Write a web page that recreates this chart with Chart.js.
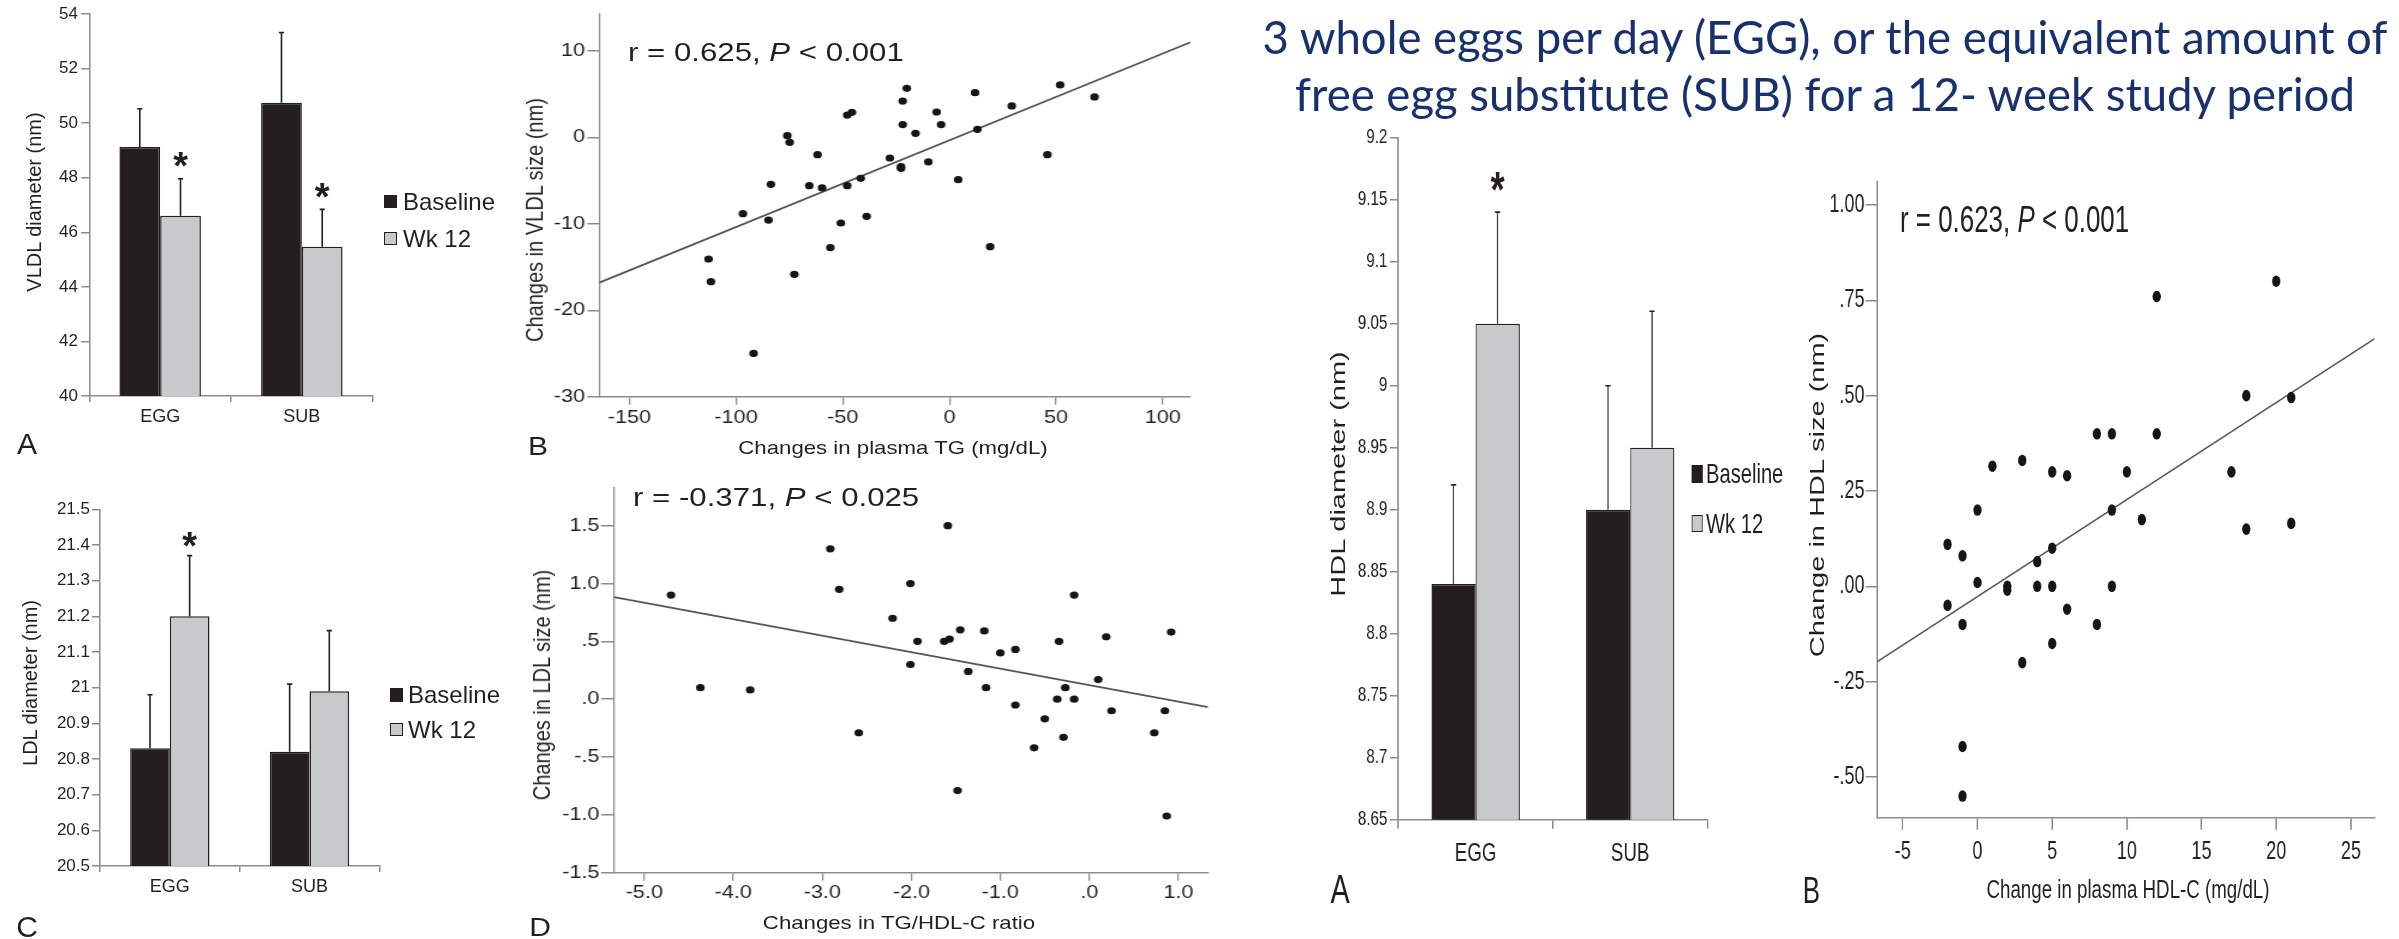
<!DOCTYPE html>
<html>
<head>
<meta charset="utf-8">
<title>Egg vs egg substitute – lipoprotein particle size</title>
<script src="https://cdn.jsdelivr.net/npm/chart.js@4.4.1/dist/chart.umd.min.js"></script>
<style>
  html, body { margin:0; padding:0; background:#fff; }
  body { position:relative; width:2399px; height:939px; overflow:hidden; }
  .panel { position:absolute; transform-origin:0 0; }
  .panel canvas { position:absolute; left:0; top:0; }
  .t { position:absolute; white-space:nowrap; color:#231f20; font-family:'Liberation Sans', Arial, Helvetica, sans-serif; }
  .sq { position:absolute; box-sizing:border-box; border:1.5px solid #231f20; }
  .head { position:absolute; left:1125px; width:1400px; text-align:center; white-space:nowrap; color:#17306f; font-family:Lato, 'Open Sans', sans-serif; }
</style>
</head>
<body>
<script>
// ---------------- data ----------------
const titleLines = ['3 whole eggs per day (EGG), or the equivalent amount of',
                    'free egg substitute (SUB) for a 12- week study period'];
const barCategories = ['EGG', 'SUB'];
const seriesNames = ['Baseline', 'Wk 12'];

// A: VLDL diameter
const vldlBaseline   = [49.13, 50.75];
const vldlBaselineSE = [1.40, 2.57];
const vldlWk12       = [46.61, 45.47];
const vldlWk12SE     = [1.35, 1.37];
const vldlWk12Star   = [true, true];
const vldlTicks      = [40, 42, 44, 46, 48, 50, 52, 54];
const vldlTickLabels = ['40', '42', '44', '46', '48', '50', '52', '54'];

// C: LDL diameter
const ldlBaseline   = [20.83, 20.82];
const ldlBaselineSE = [0.15, 0.19];
const ldlWk12       = [21.20, 20.99];
const ldlWk12SE     = [0.17, 0.17];
const ldlWk12Star   = [true, false];
const ldlTicks      = [20.5, 20.6, 20.7, 20.8, 20.9, 21.0, 21.1, 21.2, 21.3, 21.4, 21.5];
const ldlTickLabels = ['20.5', '20.6', '20.7', '20.8', '20.9', '21', '21.1', '21.2', '21.3', '21.4', '21.5'];

// HDL diameter
const hdlBaseline   = [8.84, 8.90];
const hdlBaselineSE = [0.08, 0.10];
const hdlWk12       = [9.05, 8.95];
const hdlWk12SE     = [0.09, 0.11];
const hdlWk12Star   = [true, false];
const hdlTicks      = [8.65, 8.7, 8.75, 8.8, 8.85, 8.9, 8.95, 9.0, 9.05, 9.1, 9.15, 9.2];
const hdlTickLabels = ['8.65', '8.7', '8.75', '8.8', '8.85', '8.9', '8.95', '9', '9.05', '9.1', '9.15', '9.2'];

// B: change in plasma TG vs change in VLDL size
const tgChange   = [-112.9, -111.8, -96.8, -91.8, -84.8, -83.7, -76.0, -74.9, -72.7, -65.7, -61.8, -59.7, -55.8,
                    -50.9, -47.9, -47.9, -45.7, -41.6, -38.8, -27.9, -22.7, -22.7, -21.9, -21.9, -20.0, -15.9,
                    -9.9, -6.0, -3.9, 4.1, 12.0, 13.1, 19.1, 29.2, 45.9, 51.9, 68.0];
const vldlChange = [-14.07, -16.69, -8.82, -24.99, -9.56, -5.43, 0.20, -0.57, -15.84, -5.58, -2.0, -5.85, -12.76,
                    -9.90, -5.58, 2.59, 2.90, -4.73, -9.13, -2.38, -3.38, -3.58, 4.21, 1.48, 5.68, 0.47,
                    -2.84, 2.94, 1.48, -4.89, 5.18, 0.94, -12.64, 3.64, -2.0, 6.07, 4.68];
const vldlFitX = [-164.1, 113.0];
const vldlFitY = [-16.8, 11.0];
const tgTicks = [-150, -100, -50, 0, 50, 100];
const tgTickLabels = ['-150', '-100', '-50', '0', '50', '100'];
const vldlChangeTicks = [-30, -20, -10, 0, 10];
const vldlChangeTickLabels = ['-30', '-20', '-10', '0', '10'];

// D: change in TG/HDL-C ratio vs change in LDL size
const ratioChange = [-4.70, -4.37, -3.81, -2.91, -2.81, -2.59, -2.21, -2.01, -2.01, -1.93, -1.63, -1.57, -1.59,
                     -1.45, -1.48, -1.36, -1.18, -1.16, -1.00, -0.83, -0.83, -0.62, -0.50, -0.36, -0.34, -0.29,
                     -0.27, -0.17, -0.17, 0.10, 0.19, 0.25, 0.73, 0.85, 0.87, 0.92];
const ldlChange   = [0.90, 0.10, 0.08, 1.30, 0.95, -0.29, 0.70, 1.00, 0.30, 0.50, 0.50, 0.52, 1.50,
                     0.60, -0.79, 0.24, 0.59, 0.10, 0.40, 0.43, -0.05, -0.42, -0.17, 0.00, 0.50, -0.33,
                     0.10, 0.90, 0.00, 0.17, 0.54, -0.10, -0.29, -0.10, -1.01, 0.58];
const ldlFitX = [-5.34, 1.334];
const ldlFitY = [0.883, -0.069];
const ratioTicks = [-5, -4, -3, -2, -1, 0, 1];
const ratioTickLabels = ['-5.0', '-4.0', '-3.0', '-2.0', '-1.0', '.0', '1.0'];
const ldlChangeTicks = [-1.5, -1, -0.5, 0, 0.5, 1, 1.5];
const ldlChangeTickLabels = ['-1.5', '-1.0', '-.5', '.0', '.5', '1.0', '1.5'];

// HDL B: change in plasma HDL-C vs change in HDL size
const hdlcChange    = [-2, -2, -1, -1, -1, -1, 0, 0, 1, 2, 2, 3, 3, 4, 4, 5, 5, 5, 5, 6, 6, 8, 8, 9, 9, 9,
                       10, 11, 12, 12, 17, 18, 18, 20, 21, 21];
const hdlSizeChange = [0.11, -0.05, 0.08, -0.10, -0.42, -0.55, 0.20, 0.01, 0.315, 0.0, -0.01, 0.33, -0.20,
                       0.065, 0.0, 0.30, 0.10, 0.0, -0.15, 0.29, -0.06, 0.40, -0.10, 0.40, 0.20, 0.0,
                       0.30, 0.175, 0.40, 0.76, 0.30, 0.50, 0.15, 0.80, 0.495, 0.165];
const hdlFitX = [-6.69, 26.58];
const hdlFitY = [-0.197, 0.649];
const hdlcTicks = [-5, 0, 5, 10, 15, 20, 25];
const hdlcTickLabels = ['-5', '0', '5', '10', '15', '20', '25'];
const hdlSizeTicks = [-0.5, -0.25, 0, 0.25, 0.5, 0.75, 1.0];
const hdlSizeTickLabels = ['-.50', '-.25', '.00', '.25', '.50', '.75', '1.00'];

// ---------------- style ----------------
const FONT = "'Liberation Sans', Arial, Helvetica, sans-serif";
const INK = '#231f20';
const LIGHT = '#c8c9cb';
const AXIS = '#8c8c8c';
const LINE = '#555555';
const DOT = '#151515';

// ---------------- helpers ----------------
function panel(p) {
  const div = document.createElement('div');
  div.className = 'panel';
  const lw = Math.ceil(p.width / p.k);
  div.style.left = p.left + 'px';
  div.style.top = p.top + 'px';
  div.style.width = lw + 'px';
  div.style.height = p.height + 'px';
  div.style.transform = 'scaleX(' + p.k + ')';
  document.body.appendChild(div);
  const cv = document.createElement('canvas');
  cv.width = lw; cv.height = p.height;
  cv.style.width = lw + 'px'; cv.style.height = p.height + 'px';
  div.appendChild(cv);
  p.div = div; p.cv = cv; p.lw = lw;
  p.lx = x => (x - p.left) / p.k;
  p.ly = y => y - p.top;
  return p;
}

function label(p, html, x, y, size, o = {}) {
  const el = document.createElement('div');
  el.className = 't';
  el.innerHTML = html;
  el.style.fontSize = size + 'px';
  el.style.lineHeight = size + 'px';
  if (o.weight) el.style.fontWeight = o.weight;
  el.style.left = p.lx(x) + 'px';
  el.style.top = p.ly(y) + 'px';
  let tr = o.align === 'left' ? 'translate(0,-50%)' : 'translate(-50%,-50%)';
  if (o.rot) tr += ' rotate(-90deg)';
  el.style.transform = tr;
  p.div.appendChild(el);
}

function square(p, x0, y0, x1, y1, fill) {
  const el = document.createElement('div');
  el.className = 'sq';
  el.style.left = p.lx(x0) + 'px';
  el.style.top = p.ly(y0) + 'px';
  el.style.width = (x1 - x0) / p.k + 'px';
  el.style.height = (y1 - y0) + 'px';
  el.style.background = fill;
  p.div.appendChild(el);
}

const errorBarPlugin = {
  id: 'errorBars',
  afterDatasetsDraw(chart, args, opts) {
    const ctx = chart.ctx, ys = chart.scales.y;
    chart.data.datasets.forEach((ds, di) => {
      if (!ds.se) return;
      const meta = chart.getDatasetMeta(di);
      meta.data.forEach((bar, i) => {
        const yTop = ys.getPixelForValue(ds.data[i] + ds.se[i]);
        const yBar = ys.getPixelForValue(ds.data[i]);
        ctx.save();
        ctx.strokeStyle = INK;
        ctx.lineWidth = 1.6;
        ctx.beginPath();
        ctx.moveTo(bar.x, yBar); ctx.lineTo(bar.x, yTop);
        ctx.moveTo(bar.x - opts.cap, yTop); ctx.lineTo(bar.x + opts.cap, yTop);
        ctx.stroke();
        if (ds.stars && ds.stars[i]) {
          ctx.fillStyle = INK;
          ctx.font = 'bold ' + opts.starSize + 'px ' + FONT;
          ctx.textAlign = 'center';
          ctx.textBaseline = 'alphabetic';
          ctx.fillText('*', bar.x, yTop - opts.gap + 0.578 * opts.starSize);
        }
        ctx.restore();
      });
    });
  }
};

function baseOptions(p) {
  return {
    responsive: false, maintainAspectRatio: false, animation: false, devicePixelRatio: 1, events: [],
    layout: { autoPadding: false, padding: { left: 0, top: p.ly(p.area.t), right: p.lw - p.lx(p.area.r), bottom: 0 } }
  };
}

function barChart(p, o) {
  const opt = baseOptions(p);
  opt.plugins = { legend: { display: false }, tooltip: { enabled: false },
                  errorBars: { cap: o.cap / p.k, gap: o.starGap, starSize: o.starSize } };
  opt.scales = {
    x: {
      type: 'category', offset: true,
      afterFit: s => { s.height = p.height - p.ly(p.area.b); },
      grid: { offset: true, drawOnChartArea: false, drawTicks: true, tickLength: o.xtl, color: AXIS, lineWidth: 1.5 / p.k },
      border: { display: true, color: AXIS, width: 1.5 },
      ticks: { color: INK, font: { family: FONT, size: o.catFont }, padding: o.xpad, maxRotation: 0, autoSkip: false }
    },
    y: {
      type: 'linear', min: o.ticks[0], max: o.ticks[o.ticks.length - 1],
      afterFit: s => { s.width = p.lx(p.area.l); },
      afterBuildTicks: s => { s.ticks = o.ticks.map(v => ({ value: v })); },
      grid: { drawOnChartArea: false, drawTicks: true, tickLength: o.ytl / p.k, color: AXIS, lineWidth: 1.5 },
      border: { display: true, color: AXIS, width: 1.5 / p.k },
      ticks: { color: INK, font: { family: FONT, size: o.tickFont }, padding: o.ypad / p.k,
               autoSkip: false, callback: (v, i) => o.labels[i] }
    }
  };
  return new Chart(p.cv, {
    type: 'bar',
    data: {
      labels: barCategories,
      datasets: [
        { label: seriesNames[0], data: o.base, se: o.baseSE, backgroundColor: INK, borderColor: INK,
          borderWidth: 1.5, categoryPercentage: o.cat, barPercentage: 1 },
        { label: seriesNames[1], data: o.wk, se: o.wkSE, stars: o.stars, backgroundColor: LIGHT, borderColor: INK,
          borderWidth: 1.5, categoryPercentage: o.cat, barPercentage: 1 }
      ]
    },
    options: opt,
    plugins: [errorBarPlugin]
  });
}

function scatterChart(p, o) {
  const opt = baseOptions(p);
  opt.plugins = { legend: { display: false }, tooltip: { enabled: false } };
  opt.scales = {
    x: {
      type: 'linear', min: o.xMin, max: o.xMax,
      afterFit: s => { s.height = p.height - p.ly(p.area.b); },
      afterBuildTicks: s => { s.ticks = o.xTicks.map(v => ({ value: v })); },
      grid: { drawOnChartArea: false, drawTicks: true, tickLength: o.xtl, color: AXIS, lineWidth: 1.5 / p.k },
      border: { display: true, color: AXIS, width: 1.5 },
      ticks: { color: INK, font: { family: FONT, size: o.tickFont }, padding: o.xpad, maxRotation: 0,
               autoSkip: false, callback: (v, i) => o.xLabels[i] }
    },
    y: {
      type: 'linear', min: o.yMin, max: o.yMax,
      afterFit: s => { s.width = p.lx(p.area.l); },
      afterBuildTicks: s => { s.ticks = o.yTicks.map(v => ({ value: v })); },
      grid: { drawOnChartArea: false, drawTicks: true, tickLength: o.ytl / p.k, color: AXIS, lineWidth: 1.5 },
      border: { display: true, color: AXIS, width: 1.5 / p.k },
      ticks: { color: INK, font: { family: FONT, size: o.tickFont }, padding: o.ypad / p.k,
               autoSkip: false, callback: (v, i) => o.yLabels[i] }
    }
  };
  return new Chart(p.cv, {
    type: 'scatter',
    data: {
      datasets: [
        { type: 'line', data: o.fitX.map((x, i) => ({ x: x, y: o.fitY[i] })), borderColor: LINE, borderWidth: 1.7,
          pointRadius: 0, showLine: true, fill: false, tension: 0, order: 2 },
        { type: 'scatter', data: o.xs.map((x, i) => ({ x: x, y: o.ys[i] })), pointRadius: o.r, pointHoverRadius: o.r,
          pointBackgroundColor: DOT, pointBorderColor: DOT, pointBorderWidth: 0, order: 1 }
      ]
    },
    options: opt
  });
}

// ---------------- panels ----------------
const pA = panel({ left: 0, top: 0, width: 520, height: 470, k: 1, area: { l: 89.3, r: 372.7, t: 14, b: 396 } });
const pC = panel({ left: 0, top: 470, width: 520, height: 469, k: 1, area: { l: 100, r: 379.3, t: 509.3, b: 866 } });
const pB = panel({ left: 510, top: 0, width: 700, height: 470, k: 1.2, area: { l: 599.3, r: 1190.5, t: 13.3, b: 396.7 } });
const pD = panel({ left: 510, top: 470, width: 700, height: 469, k: 1.2, area: { l: 614, r: 1208, t: 488, b: 872.7 } });
const pH = panel({ left: 1290, top: 120, width: 490, height: 819, k: 0.72, area: { l: 1398.3, r: 1707.3, t: 137.7, b: 819.7 } });
const pS = panel({ left: 1780, top: 120, width: 619, height: 819, k: 0.72, area: { l: 1877.5, r: 2374.5, t: 181.7, b: 817.8 } });

barChart(pA, { base: vldlBaseline, baseSE: vldlBaselineSE, wk: vldlWk12, wkSE: vldlWk12SE, stars: vldlWk12Star,
  ticks: vldlTicks, labels: vldlTickLabels, cat: 0.575, tickFont: 17, catFont: 18,
  ytl: 8, ypad: 3.3, xtl: 6, xpad: 4, cap: 2.6, starGap: 21.5, starSize: 38 });
barChart(pC, { base: ldlBaseline, baseSE: ldlBaselineSE, wk: ldlWk12, wkSE: ldlWk12SE, stars: ldlWk12Star,
  ticks: ldlTicks, labels: ldlTickLabels, cat: 0.568, tickFont: 17, catFont: 18,
  ytl: 8, ypad: 2, xtl: 6, xpad: 4, cap: 2.6, starGap: 18.5, starSize: 38 });
barChart(pH, { base: hdlBaseline, baseSE: hdlBaselineSE, wk: hdlWk12, wkSE: hdlWk12SE, stars: hdlWk12Star,
  ticks: hdlTicks, labels: hdlTickLabels, cat: 0.571, tickFont: 21, catFont: 26,
  ytl: 8.3, ypad: 2.7, xtl: 9, xpad: 9.5, cap: 2.6, starGap: 34, starSize: 50 });

scatterChart(pB, { xs: tgChange, ys: vldlChange, fitX: vldlFitX, fitY: vldlFitY,
  xMin: -164.1, xMax: 113.0, yMin: -30, yMax: 14.36,
  xTicks: tgTicks, xLabels: tgTickLabels, yTicks: vldlChangeTicks, yLabels: vldlChangeTickLabels,
  tickFont: 18, xtl: 8, xpad: 2.8, ytl: 12, ypad: 2.3, r: 3.6 });
scatterChart(pD, { xs: ratioChange, ys: ldlChange, fitX: ldlFitX, fitY: ldlFitY,
  xMin: -5.34, xMax: 1.334, yMin: -1.5, yMax: 1.826,
  xTicks: ratioTicks, xLabels: ratioTickLabels, yTicks: ldlChangeTicks, yLabels: ldlChangeTickLabels,
  tickFont: 18, xtl: 8, xpad: 1.8, ytl: 13, ypad: 1.7, r: 3.6 });
scatterChart(pS, { xs: hdlcChange, ys: hdlSizeChange, fitX: hdlFitX, fitY: hdlFitY,
  xMin: -6.69, xMax: 26.58, yMin: -0.607, yMax: 1.061,
  xTicks: hdlcTicks, xLabels: hdlcTickLabels, yTicks: hdlSizeTicks, yLabels: hdlSizeTickLabels,
  tickFont: 25, xtl: 12, xpad: 7, ytl: 12, ypad: 1, r: 5.8 });

// ---------------- text: axis titles, legends, panel letters, annotations ----------------
// A
label(pA, 'VLDL diameter (nm)', 33.5, 202, 20, { rot: true });
square(pA, 384, 195, 397, 208, INK);
square(pA, 384, 232, 397, 245, LIGHT);
label(pA, seriesNames[0], 403, 201.5, 24, { align: 'left' });
label(pA, seriesNames[1], 403, 238.5, 24, { align: 'left' });
label(pA, 'A', 27, 444, 30);
// C
label(pC, 'LDL diameter (nm)', 30, 683, 20, { rot: true });
square(pC, 390, 688, 403, 702, INK);
square(pC, 390, 723, 403, 736, LIGHT);
label(pC, seriesNames[0], 408, 695, 24, { align: 'left' });
label(pC, seriesNames[1], 408, 729.5, 24, { align: 'left' });
label(pC, 'C', 27, 927, 30);
// B
label(pB, 'Changes in VLDL size (nm)', 534, 219.5, 20, { rot: true });
label(pB, 'Changes in plasma TG (mg/dL)', 893, 448, 18.5);
label(pB, 'r = 0.625, <i>P</i> &lt; 0.001', 628, 51.7, 26, { align: 'left' });
label(pB, 'B', 538, 446, 25);
// D
label(pD, 'Changes in LDL size (nm)', 541, 685, 20, { rot: true });
label(pD, 'Changes in TG/HDL-C ratio', 899, 922.7, 18.5);
label(pD, 'r = -0.371, <i>P</i> &lt; 0.025', 633, 496.7, 26, { align: 'left' });
label(pD, 'D', 540, 926.5, 25);
// HDL bar
label(pH, 'HDL diameter (nm)', 1338.3, 474, 29, { rot: true });
square(pH, 1691.7, 465, 1702.5, 483, INK);
square(pH, 1691.7, 515, 1702.5, 532, LIGHT);
label(pH, seriesNames[0], 1706, 474, 28, { align: 'left' });
label(pH, seriesNames[1], 1706, 523.5, 28, { align: 'left' });
label(pH, 'A', 1340, 889, 40);
// HDL scatter
label(pS, 'Change in HDL size (nm)', 1817, 495, 29, { rot: true });
label(pS, 'Change in plasma HDL-C (mg/dL)', 2128, 889, 26);
label(pS, 'r = 0.623, <i>P</i> &lt; 0.001', 1900, 219.7, 36, { align: 'left' });
label(pS, 'B', 1811.5, 891, 36);

// ---------------- heading ----------------
(function () {
  const targetW = 1125;
  const divs = titleLines.map(txt => {
    const d = document.createElement('div');
    d.className = 'head';
    const sp = document.createElement('span');
    sp.textContent = txt;
    d.appendChild(sp);
    d.style.fontSize = '40px';
    d.style.lineHeight = '48px';
    document.body.appendChild(d);
    return { d: d, sp: sp };
  });
  const w = divs[0].sp.getBoundingClientRect().width || targetW;
  const F = 40 * targetW / w;
  const baselines = [55, 111.7];
  divs.forEach((o, i) => {
    o.d.style.fontSize = F + 'px';
    o.d.style.lineHeight = (1.2 * F) + 'px';
    o.d.style.top = (baselines[i] - 0.987 * F) + 'px';
  });
})();
</script>
</body>
</html>
